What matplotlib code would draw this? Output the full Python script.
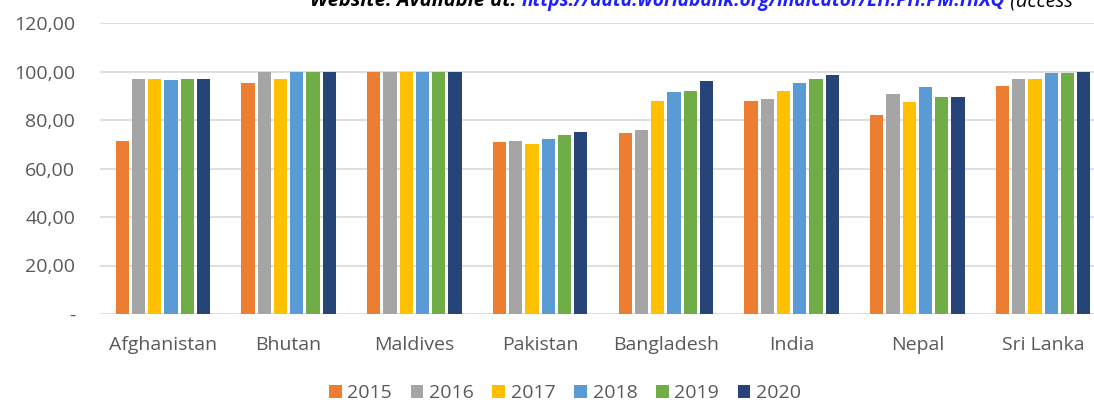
import matplotlib.pyplot as plt
import numpy as np

plt.rcParams['font.family'] = ['Open Sans', 'DejaVu Sans']

countries = ['Afghanistan', 'Bhutan', 'Maldives', 'Pakistan', 'Bangladesh', 'India', 'Nepal', 'Sri Lanka']
years = ['2015', '2016', '2017', '2018', '2019', '2020']
v2015 = [71.3, 95.4, 99.8, 71.0, 74.6, 88.0, 82.2, 94.0]
v2016 = [97.0, 99.7, 99.9, 71.5, 75.9, 88.8, 90.6, 97.0]
v2017 = [97.0, 97.0, 99.9, 70.2, 88.0, 92.1, 87.4, 97.0]
v2018 = [96.5, 100.0, 100.0, 72.3, 91.4, 95.4, 93.7, 99.5]
v2019 = [97.0, 100.0, 100.0, 73.7, 92.0, 97.0, 89.6, 99.5]
v2020 = [97.0, 100.0, 100.0, 75.0, 96.0, 98.6, 89.6, 100.0]
series = [v2015, v2016, v2017, v2018, v2019, v2020]
colors = ['#ED7D31', '#A5A5A5', '#FFC000', '#5B9BD5', '#70AD47', '#264478']
yticks = [0, 20, 40, 60, 80, 100, 120]
ytick_labels = ['-', '20,00', '40,00', '60,00', '80,00', '100,00', '120,00']

fig = plt.figure(figsize=(10.94, 4.03), dpi=100)
ax = fig.add_axes([100 / 1094, 1 - 314 / 403, 1006 / 1094, 291 / 403])

x = np.arange(len(countries))
step = 0.129
width = 0.105
for i, (vals, c) in enumerate(zip(series, colors)):
    ax.bar(x + (i - 2.5) * step, vals, width=width, color=c, label=years[i], zorder=3)

ax.set_xlim(-0.5, len(countries) - 0.5)
ax.set_ylim(0, 120)
ax.set_yticks(yticks)
ax.set_yticklabels(ytick_labels)
ax.set_xticks(x)
ax.set_xticklabels(countries)
ax.grid(axis='y', color='#D9D9D9', linewidth=1.2, zorder=0)
for s in ax.spines.values():
    s.set_visible(False)
ax.tick_params(axis='both', length=0, labelsize=14, colors='#595959')
ax.tick_params(axis='y', pad=18)
ax.tick_params(axis='x', pad=16)

leg = ax.legend(loc='center', bbox_to_anchor=(465 / 1006, -79 / 291), ncol=6, frameon=False,
                fontsize=14, handlelength=0.65, handleheight=0.65, handletextpad=0.3,
                columnspacing=0.95, labelcolor='#595959')

# cropped source line at the top, pieces placed one after another
renderer = fig.canvas.get_renderer()
parts = [('Website. Available at: ', 'black', 'bold', 14.5),
         ('https://data.worldbank.org/indicator/EH.PH.PM.HIXQ', '#1F1FFF', 'bold', 13.8),
         (' (access', 'black', 'normal', 14.5)]
xpos = 310
for txt, col, wt, fs in parts:
    t = fig.text(xpos / 1094, 1 - 6 / 403, txt, fontsize=fs, fontweight=wt,
                 fontstyle='italic', color=col, va='baseline')
    bb = t.get_window_extent(renderer)
    xpos = bb.x1

fig.savefig('out.png', dpi=100)
